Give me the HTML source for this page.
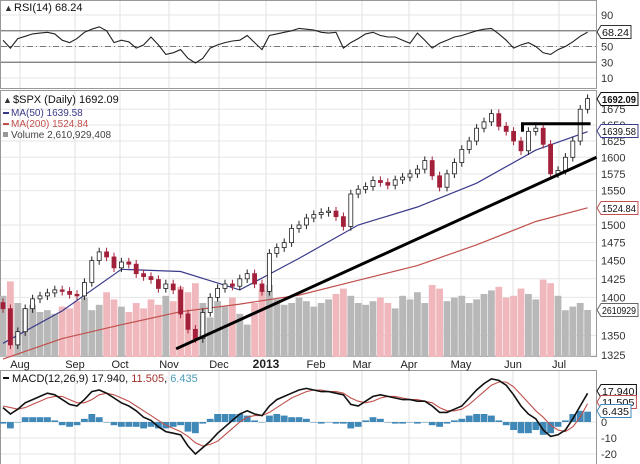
<!DOCTYPE html>
<html><head><meta charset="utf-8"><style>
html,body{margin:0;padding:0;background:#fff;}
svg{display:block;font-family:"Liberation Sans",sans-serif;}
</style></head><body>
<svg id="chart" width="640" height="464" viewBox="0 0 640 464">
<g id="grid"></g><g id="vol"></g><g id="lines"></g><g id="candles"></g><g id="ann"></g><g id="labels"></g>
</svg>
<script>
const months=["Aug","Sep","Oct","Nov","Dec","2013","Feb","Mar","Apr","May","Jun","Jul"];
const monthX=[20,75,120,169,219,266,316,362,409,461,513,559];
const priceTicks=[1675,1650,1625,1600,1575,1550,1500,1475,1450,1425,1400,1350,1325];
const rsiTicks=[90,50,30,10];
const macdTicks=[0,-10,-20];
const closes=[1385,1338,1355,1385,1398,1402,1406,1410,1408,1404,1402,1420,1450,1462,1455,1440,1448,1445,1432,1428,1424,1412,1418,1410,1378,1358,1346,1380,1400,1412,1418,1415,1425,1432,1418,1408,1460,1468,1475,1495,1500,1510,1515,1518,1520,1512,1498,1545,1552,1556,1565,1562,1558,1566,1570,1575,1582,1595,1572,1555,1575,1592,1612,1625,1645,1655,1668,1648,1640,1625,1610,1640,1645,1620,1575,1580,1600,1625,1675,1692.09];
const volumes=[3.4,4.2,3.0,2.7,2.9,2.5,2.6,2.4,2.8,2.7,3.1,3.3,2.6,2.9,3.6,3.2,2.8,2.5,3.0,2.7,3.2,2.9,3.4,3.1,3.9,3.6,4.1,3.0,2.2,3.1,2.8,3.3,2.4,1.8,3.0,3.7,4.0,3.2,2.9,3.0,3.3,3.1,2.8,3.0,3.2,3.5,3.8,3.4,3.0,2.9,3.1,3.3,3.0,2.7,3.4,3.2,3.6,3.0,4.0,3.8,3.1,3.3,3.4,3.0,3.2,3.5,3.7,3.9,3.3,3.4,3.8,3.5,3.2,4.3,4.1,3.4,2.6,2.8,3.0,2.61];
const ma50Idx=[0,8,16,24,32,40,48,56,64,72,79];
const ma50=[1340,1382,1438,1435,1410,1453,1500,1526,1561,1611,1639.58];
const ma200=[1320,1346,1364,1381,1391,1403,1423,1443,1472,1505,1524.84];
const rsi=[58,48,60,63,66,67,68,66,58,55,60,68,72,75,70,55,58,56,48,52,62,52,40,42,46,35,29,35,48,52,55,57,58,64,55,46,64,66,68,70,73,72,71,68,67,68,48,55,60,66,68,64,62,62,58,54,67,58,48,54,58,62,64,67,70,72,73,66,58,48,52,55,50,42,40,46,50,56,63,68.24];
const macd=[9,5,8,12,14,16,18,17,14,11,10,14,19,20,18,15,12,10,7,3,1,-3,-6,-7,-8,-15,-20,-16,-12,-7,-3,1,5,7,5,4,10,14,16,18,20,21,20,19,19,18,17,11,10,13,16,17,16,15,14,14,13,13,10,6,6,8,10,15,20,24,27,26,23,17,10,5,2,-5,-9,-8,-5,2,10,17.94];
const signal=[10,9,8,9,11,13,15,16,16,14,12,12,14,17,18,17,15,13,10,7,4,1,-2,-4,-6,-9,-13,-15,-14,-12,-8,-4,0,3,4,4,6,9,12,15,17,19,20,20,19,19,18,15,13,12,13,15,16,16,15,14,14,13,12,9,7,7,8,11,15,19,23,25,25,22,17,12,7,3,-2,-5,-6,-3,3,11.5];
const trendStart=[23.4,1333],trendEnd=[80.2,1600];
const resist=[70.2,79.4,1652];

const NS="http://www.w3.org/2000/svg";
const R=596;
const xi=i=>3+i*7.4;
const yp=p=>225-1049*Math.log(p/1500);
const yr=v=>15+(90-v)*0.7875;
const ym=v=>422-1.6*v;
const yv=v=>357-v*18;
function mk(par,tag,at,txt){const e=document.createElementNS(NS,tag);for(const k in at)e.setAttribute(k,at[k]);if(txt!==undefined)e.textContent=txt;document.getElementById(par).appendChild(e);return e;}

let e;
e=mk('grid','rect',{x:0.5,y:0.5,width:R,height:88,fill:'#fff',stroke:'#999'});

e=mk('grid','rect',{x:0.5,y:90.5,width:R,height:266,fill:'#fff',stroke:'#999'});

e=mk('grid','rect',{x:0.5,y:370.5,width:R,height:94,fill:'#fff',stroke:'#999'});

monthX.forEach((x,k)=>{
 [[1,88],[91,356],[371,464]].forEach(r=>{e=mk('grid','line',{x1:x,x2:x,y1:r[0],y2:r[1],stroke:'#e2e2e2'});});
 e=mk('labels','text',{x:x,y:368,'font-size':k==5?12:11,'font-weight':k==5?'bold':'normal','text-anchor':'middle',fill:'#222'},months[k]);
 
});
priceTicks.forEach(p=>{e=mk('grid','line',{x1:1,x2:R,y1:yp(p),y2:yp(p),stroke:'#e6e6e6'});
 e=mk('labels','text',{x:601,y:yp(p)+4,'font-size':11,fill:'#333'},p);});
rsiTicks.forEach(v=>{e=mk('grid','line',{x1:1,x2:R,y1:yr(v),y2:yr(v),stroke:'#e6e6e6'});
 e=mk('labels','text',{x:601,y:yr(v)+4,'font-size':11,fill:'#333'},v);});
[70,30].forEach(v=>{e=mk('grid','line',{x1:1,x2:R,y1:yr(v),y2:yr(v),stroke:'#777','stroke-width':1.2});});
e=mk('grid','line',{x1:1,x2:R,y1:yr(50),y2:yr(50),stroke:'#777','stroke-dasharray':'6,3,1,3'});
macdTicks.forEach(v=>{e=mk('grid','line',{x1:1,x2:R,y1:ym(v),y2:ym(v),stroke:'#e6e6e6'});
 e=mk('labels','text',{x:601,y:ym(v)+4,'font-size':11,fill:'#333'},v);});

volumes.forEach((v,i)=>{const up=i==0||closes[i]>=closes[i-1];
 e=mk('vol','rect',{x:xi(i)-3.4,y:yv(v),width:6.8,height:357-yv(v),fill:up?'#b8b8b8':'#f0b8bd'});
 });

function poly(vals,xs,yf,col,w,name){const d=vals.map((v,k)=>(k?'L':'M')+xs(k).toFixed(1)+','+yf(v).toFixed(1)).join('');
 const p=mk('lines','path',{d:d,fill:'none',stroke:col,'stroke-width':w});}
poly(ma200,k=>xi(ma50Idx[k]),yp,'#c0504d',1.2,'ma200-line');
poly(ma50,k=>xi(ma50Idx[k]),yp,'#3a3a8a',1.2,'ma50-line');
poly(rsi,xi,yr,'#222',1.1,'rsi-line');
macd.forEach((m,i)=>{const h=m-signal[i];const y0=ym(0),y1=ym(h);
 e=mk('lines','rect',{x:xi(i)-3.4,y:Math.min(y0,y1),width:6.8,height:Math.abs(y1-y0)||0.5,fill:'#3f88b8'});
 });
poly(signal,xi,ym,'#c0504d',1.1,'macd-signal-line');
poly(macd,xi,ym,'#111',1.6,'macd-line');

closes.forEach((c,i)=>{const o=i?closes[i-1]:c+8;const hi=Math.max(o,c)*1.004,lo=Math.min(o,c)*0.996;const up=c>=o;
 const col=up?'#222':'#a3203a';
 e=mk('candles','line',{x1:xi(i),x2:xi(i),y1:yp(hi),y2:yp(lo),stroke:col});
 e=mk('candles','rect',{x:xi(i)-2,y:yp(Math.max(o,c)),width:4,height:Math.max(1,Math.abs(yp(o)-yp(c))),fill:up?'#fff':'#a3203a',stroke:col,'stroke-width':0.8});
 });

e=mk('ann','line',{x1:xi(trendStart[0]),y1:yp(trendStart[1]),x2:xi(trendEnd[0]),y2:yp(trendEnd[1]),stroke:'#000','stroke-width':3});

e=mk('ann','path',{d:`M${xi(resist[0])},${yp(resist[2])+8}V${yp(resist[2])}H${xi(resist[1])}`,fill:'none',stroke:'#000','stroke-width':3});


function tag(y,txt,col,bold,name){const w=Math.min(37,txt.length*5.4+3);
 const p=mk('labels','path',{d:`M597,${y}l4,-6.5h${w}v13h-${w}z`,fill:'#fff',stroke:col});
 const t=mk('labels','text',{x:602,y:y+4,'font-size':10.5,'font-weight':bold?'bold':'normal',fill:'#111',textLength:w-3,lengthAdjust:'spacingAndGlyphs'},txt);}
tag(32,'68.24','#333',false,'rsi');
tag(99,'1692.09','#111',true,'price');
tag(131,'1639.58','#3a3a8a',false,'ma50');
tag(208,'1524.84','#c0504d',false,'ma200');
tag(310,'2610929','#666',false,'volume');
tag(391,'17.940','#111',false,'macd');
tag(402,'11.505','#c0504d',false,'signal');
tag(411,'6.435','#3f88b8',false,'histogram');

function txt(x,y,s,col,name,size){const t=mk('labels','text',{x:x,y:y,'font-size':size||11,fill:col},s);return t;}
txt(4,11,'▲','#333','rsi-icon',9);txt(14,11,'RSI(14) 68.24','#111','rsi-legend');
txt(3,103,'▲','#333','price-icon',9);txt(13,103,'$SPX (Daily) 1692.09','#111','price-legend');
e=mk('labels','rect',{x:3,y:112,width:6,height:2,fill:'#3a3a8a'});
txt(11,116,'MA(50) 1639.58','#3a3a8a','ma50-legend',10);
e=mk('labels','rect',{x:3,y:123,width:6,height:2,fill:'#c0504d'});
txt(11,127,'MA(200) 1524.84','#c0504d','ma200-legend',10);
e=mk('labels','rect',{x:3,y:132,width:5,height:5,fill:'#999'});
txt(11,138,'Volume 2,610,929,408','#444','volume-legend',10);
e=mk('labels','rect',{x:3,y:377,width:6,height:2,fill:'#111'});
const ml=mk('labels','text',{x:12,y:382,'font-size':11,fill:'#111'});
ml.innerHTML='MACD(12,26,9) 17.940, <tspan fill="#a0302c">11.505</tspan>, <tspan fill="#4a9ab8">6.435</tspan>';
</script>
</body></html>
